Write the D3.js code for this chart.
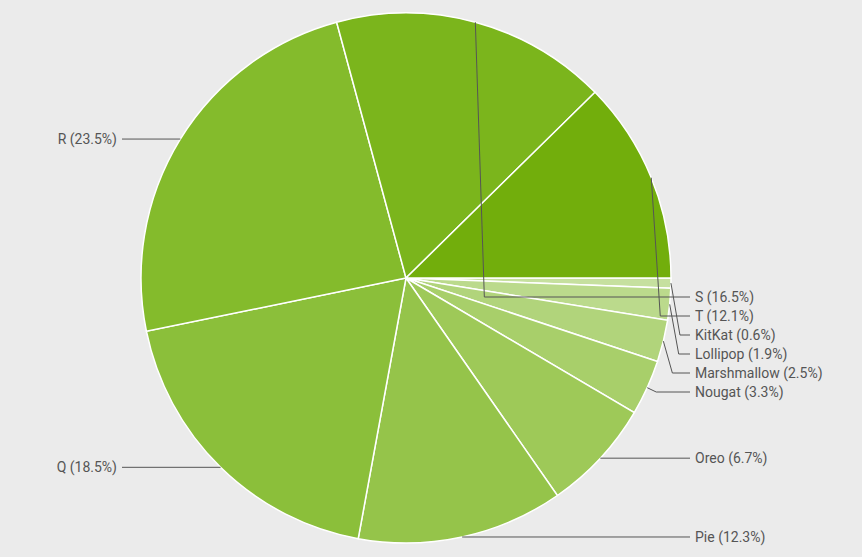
<!DOCTYPE html>
<html><head><meta charset="utf-8">
<script src="https://cdn.jsdelivr.net/npm/d3@7"></script>
<style>body{margin:0;background:#ebebeb}svg{display:block}</style>
</head><body>
<svg id="chart" width="862" height="557"></svg>
<script>
// clockwise from 3 o'clock
const names = ["KitKat","Lollipop","Marshmallow","Nougat","Oreo","Pie","Q","R","S","T"]
const shares = [0.6,1.9,2.5,3.3,6.7,12.3,18.5,23.5,16.5,12.1]
const colors = ["#c6e09f","#bbda8c","#b1d47b","#a8cf6a","#9ec958","#95c44a","#8bbf3a","#84bb2c","#7bb51c","#72ae0c"]

const W = 862, H = 557, cx = 406, cy = 278, r = 265
const svg = d3.select("#chart")
const g = svg.append("g").attr("transform", `translate(${cx},${cy})`)

const pie = d3.pie().sort(null).value(d => d.v)
  .startAngle(Math.PI/2).endAngle(Math.PI/2 + 2*Math.PI)
const arcs = pie(names.map((n,i) => ({n, v: shares[i], c: colors[i]})))
const arc = d3.arc().innerRadius(0).outerRadius(r)

g.selectAll("path").data(arcs).enter().append("path")
  .attr("d", arc).attr("fill", d => d.data.c)
  .attr("stroke", "#fff").attr("stroke-width", 1.5)

// label layout
const labels = arcs.map(d => {
  const a = (d.startAngle + d.endAngle)/2
  const x = Math.sin(a)*r, y = -Math.cos(a)*r
  return {d, ax: x, ay: y, y, right: x >= -1e-6}
})
const right = labels.filter(l => l.right).sort((a,b) => a.y - b.y)
let prev = 19 - 19
right.forEach((l, i) => {
  if (i === 0) l.y = Math.max(l.y, 19)
  else l.y = Math.max(l.y, prev + 19)
  prev = l.y
})

labels.forEach(l => {
  const tx = l.right ? 690 - cx : 122 - cx
  const pts = [[l.ax, l.ay]]
  if (Math.abs(l.y - l.ay) > 2) pts.push([l.ax + 9, l.y])
  pts.push([tx, l.y])
  g.append("polyline").attr("points", pts.map(p => p.join(",")).join(" "))
    .attr("fill", "none").attr("stroke", "#555").attr("stroke-width", 1)
  g.append("text")
    .attr("x", l.right ? tx + 5 : tx - 5).attr("y", l.y).attr("dy", "0.35em")
    .attr("text-anchor", l.right ? "start" : "end")
    .attr("font-family", "Roboto, Arial, sans-serif").attr("font-size", 14)
    .attr("fill", "#555")
    .text(`${l.d.data.n} (${l.d.data.v}%)`)
})
</script>
</body></html>
